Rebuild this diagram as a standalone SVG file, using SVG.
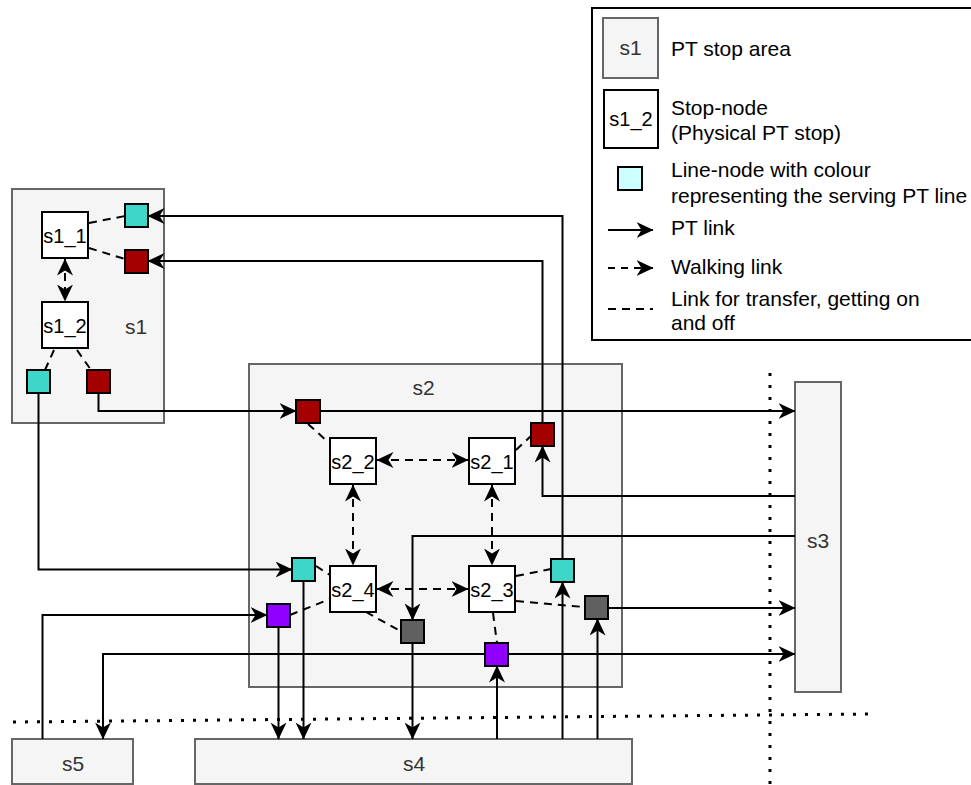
<svg xmlns="http://www.w3.org/2000/svg" width="971" height="785" viewBox="0 0 971 785">
<defs>
<marker id="arr" viewBox="0 0 17 16" refX="16.5" refY="8" markerWidth="17" markerHeight="16" markerUnits="userSpaceOnUse" orient="auto-start-reverse">
<path d="M0,0 L17,8 L0,16 L5,8 z" fill="#000"/>
</marker>
</defs>
<style>
.area{fill:#f5f5f5;stroke:#666;stroke-width:2}
.stop{fill:#fff;stroke:#000;stroke-width:2}
.ln{stroke:#000;stroke-width:2}
.cy{fill:#3ed6c8}
.rd{fill:#a50000}
.pu{fill:#8f00ff}
.dg{fill:#606060}
.lc{fill:#ccffff}
.t{font-family:"Liberation Sans",Arial,sans-serif;fill:#000}
.ta{font-family:"Liberation Sans",Arial,sans-serif;fill:#333;font-size:21px;text-anchor:middle}
.tn{font-size:20px;text-anchor:middle}
.tl{font-size:21px}
.pt{fill:none;stroke:#000;stroke-width:2;marker-end:url(#arr)}
.wk{fill:none;stroke:#000;stroke-width:2;stroke-dasharray:8 6;marker-start:url(#arr);marker-end:url(#arr)}
.tr{fill:none;stroke:#000;stroke-width:2;stroke-dasharray:8 6}
.dot{fill:none;stroke:#000;stroke-width:3;stroke-dasharray:3 9}
</style>

<g id="legend">
<rect x="592" y="8" width="390" height="332" fill="#fff" stroke="#000" stroke-width="2"/>
<rect class="area" x="603" y="18" width="55" height="60"/>
<text class="ta" x="630.5" y="55">s1</text>
<text class="t tl" x="671" y="56">PT stop area</text>
<rect class="stop" x="604" y="90" width="54" height="58"/>
<text class="t tn" x="631" y="126">s1_2</text>
<text class="t tl" x="671" y="115">Stop-node</text>
<text class="t tl" x="671" y="140">(Physical PT stop)</text>
<rect class="ln lc" x="618" y="167" width="24" height="23"/>
<text class="t tl" x="671" y="177">Line-node with colour</text>
<text class="t tl" x="671" y="203">representing the serving PT line</text>
<line x1="608" y1="230" x2="653" y2="230" stroke="#000" stroke-width="2" marker-end="url(#arr)"/>
<text class="t tl" x="671" y="235">PT link</text>
<line x1="608" y1="268" x2="653" y2="268" stroke="#000" stroke-width="2" stroke-dasharray="7 6" marker-end="url(#arr)"/>
<text class="t tl" x="671" y="274">Walking link</text>
<line x1="608" y1="309" x2="653" y2="309" class="tr"/>
<text class="t tl" x="671" y="306">Link for transfer, getting on</text>
<text class="t tl" x="671" y="330">and off</text>
</g>

<g id="area-s1">
<rect class="area" x="12" y="189" width="152" height="234"/>
<text class="ta" x="136" y="334">s1</text>
</g>
<g id="area-s2">
<rect class="area" x="249" y="364" width="373" height="323"/>
<text class="ta" x="423.5" y="395">s2</text>
</g>
<g id="area-s3">
<rect class="area" x="795" y="382" width="46" height="310"/>
<text class="ta" x="818" y="548">s3</text>
</g>
<g id="area-s4">
<rect class="area" x="195" y="739" width="437" height="45"/>
<text class="ta" x="414" y="771">s4</text>
</g>
<g id="area-s5">
<rect class="area" x="12" y="739" width="121" height="45"/>
<text class="ta" x="73" y="771">s5</text>
</g>

<g id="dotted-lines">
<line class="dot" x1="13" y1="722" x2="870" y2="714"/>
<line class="dot" x1="770" y1="373" x2="770" y2="785"/>
</g>

<g id="connectors">
<!-- walking links -->
<line class="wk" x1="65" y1="259" x2="65" y2="301"/>
<line class="wk" x1="377" y1="460" x2="468" y2="460"/>
<line class="wk" x1="353" y1="485" x2="353" y2="565"/>
<line class="wk" x1="492" y1="485" x2="492" y2="565"/>
<line class="wk" x1="377" y1="589" x2="468" y2="589"/>
<!-- transfer links -->
<line class="tr" x1="89" y1="223" x2="125" y2="216"/>
<line class="tr" x1="89" y1="248" x2="125" y2="259"/>
<line class="tr" x1="54" y1="350" x2="45" y2="370"/>
<line class="tr" x1="77" y1="350" x2="91" y2="370"/>
<line class="tr" x1="308" y1="424" x2="328" y2="442"/>
<line class="tr" x1="516" y1="450" x2="533" y2="434"/>
<line class="tr" x1="316" y1="566" x2="330" y2="575"/>
<line class="tr" x1="290" y1="615" x2="330" y2="599"/>
<line class="tr" x1="366" y1="612" x2="402" y2="632"/>
<line class="tr" x1="516" y1="576" x2="551" y2="569"/>
<line class="tr" x1="516" y1="601" x2="584" y2="607"/>
<line class="tr" x1="493" y1="613" x2="497" y2="643"/>
<!-- PT links -->
<path class="pt" d="M38.5,393 V569.5 H292"/>
<path class="pt" d="M98.5,393 V411 H296"/>
<path class="pt" d="M320,411 H795"/>
<path class="pt" d="M542.5,422 V261 H148"/>
<path class="pt" d="M562.5,558 V216 H148"/>
<path class="pt" d="M795,496 H542.5 V446"/>
<path class="pt" d="M795,536 H412.5 V620"/>
<path class="pt" d="M42.5,739 V615 H267"/>
<path class="pt" d="M303.5,581 V739"/>
<path class="pt" d="M278.5,627 V739"/>
<path class="pt" d="M412.5,643 V739"/>
<path class="pt" d="M497,739 V666"/>
<path class="pt" d="M562.5,739 V582"/>
<path class="pt" d="M597.5,739 V619"/>
<path class="pt" d="M608,608 H795"/>
<path class="pt" d="M508,654 H795"/>
<path class="pt" d="M485,654 H103 V739"/>
</g>

<g id="s1_1"><rect class="stop" x="42" y="212" width="46" height="46"/><text class="t tn" x="65" y="243">s1_1</text></g>
<g id="s1_2"><rect class="stop" x="42" y="302" width="46" height="46"/><text class="t tn" x="65" y="333">s1_2</text></g>
<g id="s2_2"><rect class="stop" x="330" y="438" width="46" height="46"/><text class="t tn" x="353" y="469">s2_2</text></g>
<g id="s2_1"><rect class="stop" x="469" y="438" width="46" height="46"/><text class="t tn" x="492" y="469">s2_1</text></g>
<g id="s2_4"><rect class="stop" x="330" y="566" width="46" height="46"/><text class="t tn" x="353" y="597">s2_4</text></g>
<g id="s2_3"><rect class="stop" x="469" y="566" width="46" height="46"/><text class="t tn" x="492" y="597">s2_3</text></g>

<g id="ln-s1-cyan-top"><rect class="ln cy" x="125" y="204" width="23" height="23"/></g>
<g id="ln-s1-red-top"><rect class="ln rd" x="125" y="250" width="23" height="23"/></g>
<g id="ln-s1-cyan-bot"><rect class="ln cy" x="27" y="370" width="23" height="23"/></g>
<g id="ln-s1-red-bot"><rect class="ln rd" x="87" y="370" width="23" height="23"/></g>
<g id="ln-s2-red-a"><rect class="ln rd" x="296" y="400" width="24" height="23"/></g>
<g id="ln-s2-red-b"><rect class="ln rd" x="531" y="423" width="23" height="23"/></g>
<g id="ln-s2-cyan-a"><rect class="ln cy" x="292" y="558" width="23" height="23"/></g>
<g id="ln-s2-purple-a"><rect class="ln pu" x="267" y="604" width="23" height="23"/></g>
<g id="ln-s2-gray-a"><rect class="ln dg" x="401" y="620" width="23" height="23"/></g>
<g id="ln-s2-cyan-b"><rect class="ln cy" x="551" y="559" width="23" height="23"/></g>
<g id="ln-s2-gray-b"><rect class="ln dg" x="585" y="596" width="23" height="23"/></g>
<g id="ln-s2-purple-b"><rect class="ln pu" x="485" y="643" width="23" height="23"/></g>
</svg>
